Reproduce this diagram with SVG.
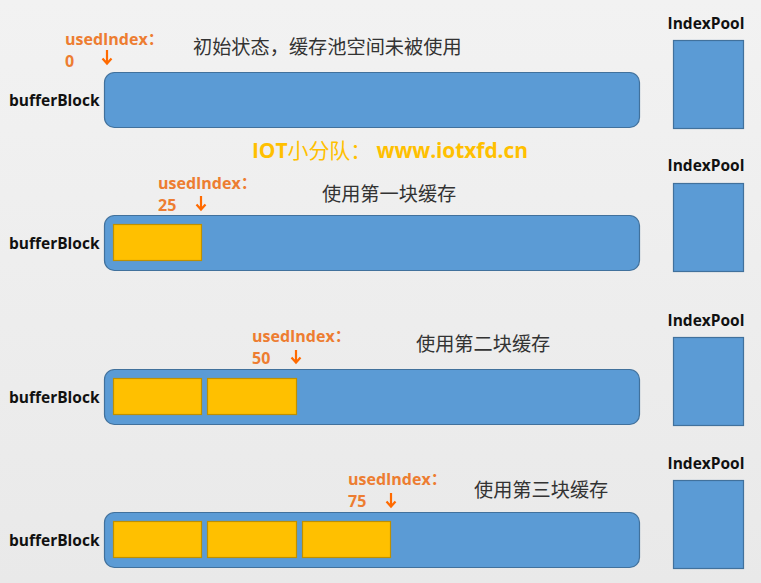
<svg xmlns="http://www.w3.org/2000/svg" width="761" height="583" viewBox="0 0 761 583">
<defs>
<linearGradient id="bg" x1="0" y1="0" x2="0" y2="1">
<stop offset="0" stop-color="#f2f2f2"/>
<stop offset="1" stop-color="#e9e9e9"/>
</linearGradient>
</defs>
<style>
.block{fill:#5b9bd5;stroke:#41719c;stroke-width:1.2}
.pool{fill:#5b9bd5;stroke:#41719c;stroke-width:1.2}
.used{fill:#ffc000;stroke:#bf9000;stroke-width:1.2}
.lbl{font-family:"Open Sans","Liberation Sans",sans-serif;font-weight:bold;font-size:15.5px;fill:#111}
.idx{font-family:"Open Sans","Liberation Sans","Noto Sans CJK SC",sans-serif;font-weight:bold;font-size:16px;fill:#ed7d31}
.cn{font-family:"Noto Sans CJK SC",sans-serif;font-size:19.2px;fill:#333}
.arr{stroke:#ff6a00;stroke-width:2.2;fill:none}
.wm{font-family:"Open Sans","Liberation Sans","Noto Sans CJK SC",sans-serif;font-weight:bold;font-size:21px;fill:#ffc000}
</style>
<rect width="761" height="583" fill="url(#bg)"/>

<text class="wm" x="252" y="158" textLength="276">IOT<tspan font-weight="normal">小分队：</tspan> www.iotxfd.cn</text>

<g id="state0">
<text class="idx" x="65" y="45">usedIndex：</text>
<text class="idx" x="65" y="67">0</text>
<text class="cn" x="193" y="54">初始状态，缓存池空间未被使用</text>
<text class="lbl" x="9" y="106">bufferBlock</text>
<rect class="block" x="104.5" y="72.5" width="535" height="55" rx="10"/>
<text class="lbl" x="706" y="29" text-anchor="middle">IndexPool</text>
<rect class="pool" x="673.5" y="40.5" width="70" height="88"/>
</g>

<g id="state1">
<text class="idx" x="158" y="189">usedIndex：</text>
<text class="idx" x="158" y="211">25</text>
<text class="cn" x="322" y="201">使用第一块缓存</text>
<text class="lbl" x="9" y="249">bufferBlock</text>
<rect class="block" x="104.5" y="215.5" width="535" height="55" rx="10"/>
<rect class="used" x="113.5" y="224.5" width="88" height="36"/>
<text class="lbl" x="706" y="171" text-anchor="middle">IndexPool</text>
<rect class="pool" x="673.5" y="183.5" width="70" height="88"/>
</g>

<g id="state2">
<text class="idx" x="252" y="342">usedIndex：</text>
<text class="idx" x="252" y="364">50</text>
<text class="cn" x="416" y="351">使用第二块缓存</text>
<text class="lbl" x="9" y="403">bufferBlock</text>
<rect class="block" x="104.5" y="369.5" width="535" height="55" rx="10"/>
<rect class="used" x="113.5" y="378.5" width="88" height="36"/>
<rect class="used" x="207.5" y="378.5" width="89" height="36"/>
<text class="lbl" x="706" y="326" text-anchor="middle">IndexPool</text>
<rect class="pool" x="673.5" y="337.5" width="70" height="88"/>
</g>

<g id="state3">
<text class="idx" x="348" y="485">usedIndex：</text>
<text class="idx" x="348" y="507">75</text>
<text class="cn" x="474" y="497">使用第三块缓存</text>
<text class="lbl" x="9" y="546">bufferBlock</text>
<rect class="block" x="104.5" y="512.5" width="535" height="55" rx="10"/>
<rect class="used" x="113.5" y="521.5" width="88" height="36"/>
<rect class="used" x="207.5" y="521.5" width="89" height="36"/>
<rect class="used" x="302.5" y="521.5" width="88" height="36"/>
<text class="lbl" x="706" y="469" text-anchor="middle">IndexPool</text>
<rect class="pool" x="673.5" y="480.5" width="70" height="88"/>
</g>

<g id="connectors">
<path class="arr" d="M107 50V63M102.5 58.5L107 63.5L111.5 58.5"/>
<path class="arr" d="M201 196V209M196.5 204.5L201 209.5L205.5 204.5"/>
<path class="arr" d="M296 350V362M291.5 357.5L296 362.5L300.5 357.5"/>
<path class="arr" d="M391 493V506M386.5 501.5L391 506.5L395.5 501.5"/>
</g>
</svg>
